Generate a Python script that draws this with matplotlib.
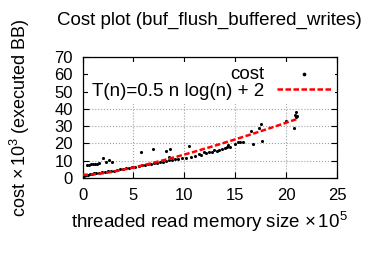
import numpy as np
import matplotlib
matplotlib.use('Agg')
import matplotlib.pyplot as plt

plt.rcParams['font.family'] = ['Liberation Sans', 'DejaVu Sans']
plt.rcParams['mathtext.fontset'] = 'custom'
plt.rcParams['mathtext.rm'] = 'Liberation Sans'
plt.rcParams['mathtext.it'] = 'Liberation Sans:italic'

# medidas (x em 10^5, custo em 10^3)
cost_x = [0.1, 0.3, 0.5, 0.7, 0.9, 1.1, 1.3, 1.6, 1.9, 2.2, 2.5, 2.8, 3.1, 3.4,
          3.7, 4.0, 4.3, 4.6, 4.9, 5.2, 5.5, 5.8, 6.1, 6.4, 6.7, 7.0, 7.3, 7.6,
          7.9, 8.2, 8.5, 8.8, 9.1, 9.4, 9.8, 10.2, 10.7, 11.0, 11.4, 11.6, 11.9,
          12.1, 12.4, 12.7, 12.9, 13.2, 13.4, 13.7, 14.0, 14.5, 15.0, 15.3,
          0.4, 0.6, 0.8, 1.0, 1.2, 1.4, 1.6, 2.0, 2.3, 2.6, 2.9, 5.7, 6.9, 8.2,
          8.6, 8.5, 10.5, 14.2, 14.3, 15.5, 15.8, 16.5, 16.7, 17.3, 17.5, 17.6,
          20.0, 20.8, 21.0, 21.0, 21.1, 20.9]
cost_y = [1.2, 1.5, 1.9, 2.1, 2.3, 2.6, 2.8, 3.0, 3.3, 3.5, 3.8, 4.0, 4.3, 4.6,
          4.9, 5.2, 5.5, 5.8, 6.1, 6.5, 6.8, 7.2, 7.5, 7.8, 8.2, 8.5, 8.8, 9.2,
          9.5, 9.9, 10.3, 10.6, 11.0, 11.2, 11.4, 11.7, 12.3, 12.8, 13.7, 13.2, 14.9,
          14.3, 15.2, 15.0, 16.2, 15.8, 16.2, 16.8, 17.3, 17.7, 19.5, 21.0,
          7.5, 7.6, 7.8, 8.0, 8.2, 8.3, 8.5, 11.4, 9.1, 10.4, 9.4, 14.8, 16.6, 15.4,
          16.8, 12.3, 18.7, 18.1, 19.0, 20.8, 21.0, 27.4, 19.7, 28.7, 31.2, 21.6,
          32.9, 28.7, 38.3, 35.0, 35.8, 36.2]

# modelo T(n)=0.5 n log(n) + 2
n = np.linspace(0.001, 21.0, 200)
tn = 0.5 * n * np.log(n) + 2

fig = plt.figure(figsize=(3.7, 2.59), dpi=100)
ax = fig.add_axes([0.223, 0.313, 0.688, 0.467])

ax.grid(True, color='#a0a0a0', linestyle=':', linewidth=0.8, zorder=0)
ax.scatter(cost_x, cost_y, s=5, color='black', linewidths=0, label='cost', zorder=3)
ax.plot(n, tn, color='red', linestyle='--', dashes=(2.2, 1.0), linewidth=1.8,
        label='T(n)=0.5 n log(n) + 2', zorder=4)

ax.set_xlim(0, 25)
ax.set_ylim(0, 70)
ax.set_xticks([0, 5, 10, 15, 20, 25])
ax.set_yticks([0, 10, 20, 30, 40, 50, 60, 70])
ax.tick_params(direction='in', length=4.5, width=0.8, top=True, right=True,
               labelsize=12, pad=7)
for s in ax.spines.values():
    s.set_linewidth(0.9)

leg = ax.legend(loc='upper right', bbox_to_anchor=(1.0, 0.975), markerfirst=False,
                fontsize=13.5, frameon=True, facecolor='white', edgecolor='none',
                framealpha=1, fancybox=False, borderpad=0.2, labelspacing=0.0,
                handlelength=2.9, handletextpad=0.7, borderaxespad=0.1,
                scatterpoints=1, markerscale=1.2)
leg.set_zorder(5)

ax.set_title('Cost plot (buf_flush_buffered_writes)', fontsize=13.5, pad=23)
ax.set_xlabel(r'threaded read memory size $\times\,10^{5}$', fontsize=13.5, labelpad=5)
ax.set_ylabel(r'cost $\times\,10^{3}$ (executed BB)', fontsize=13)
ax.yaxis.set_label_coords(-0.2, 0.5)

fig.savefig('out.png', dpi=100)
